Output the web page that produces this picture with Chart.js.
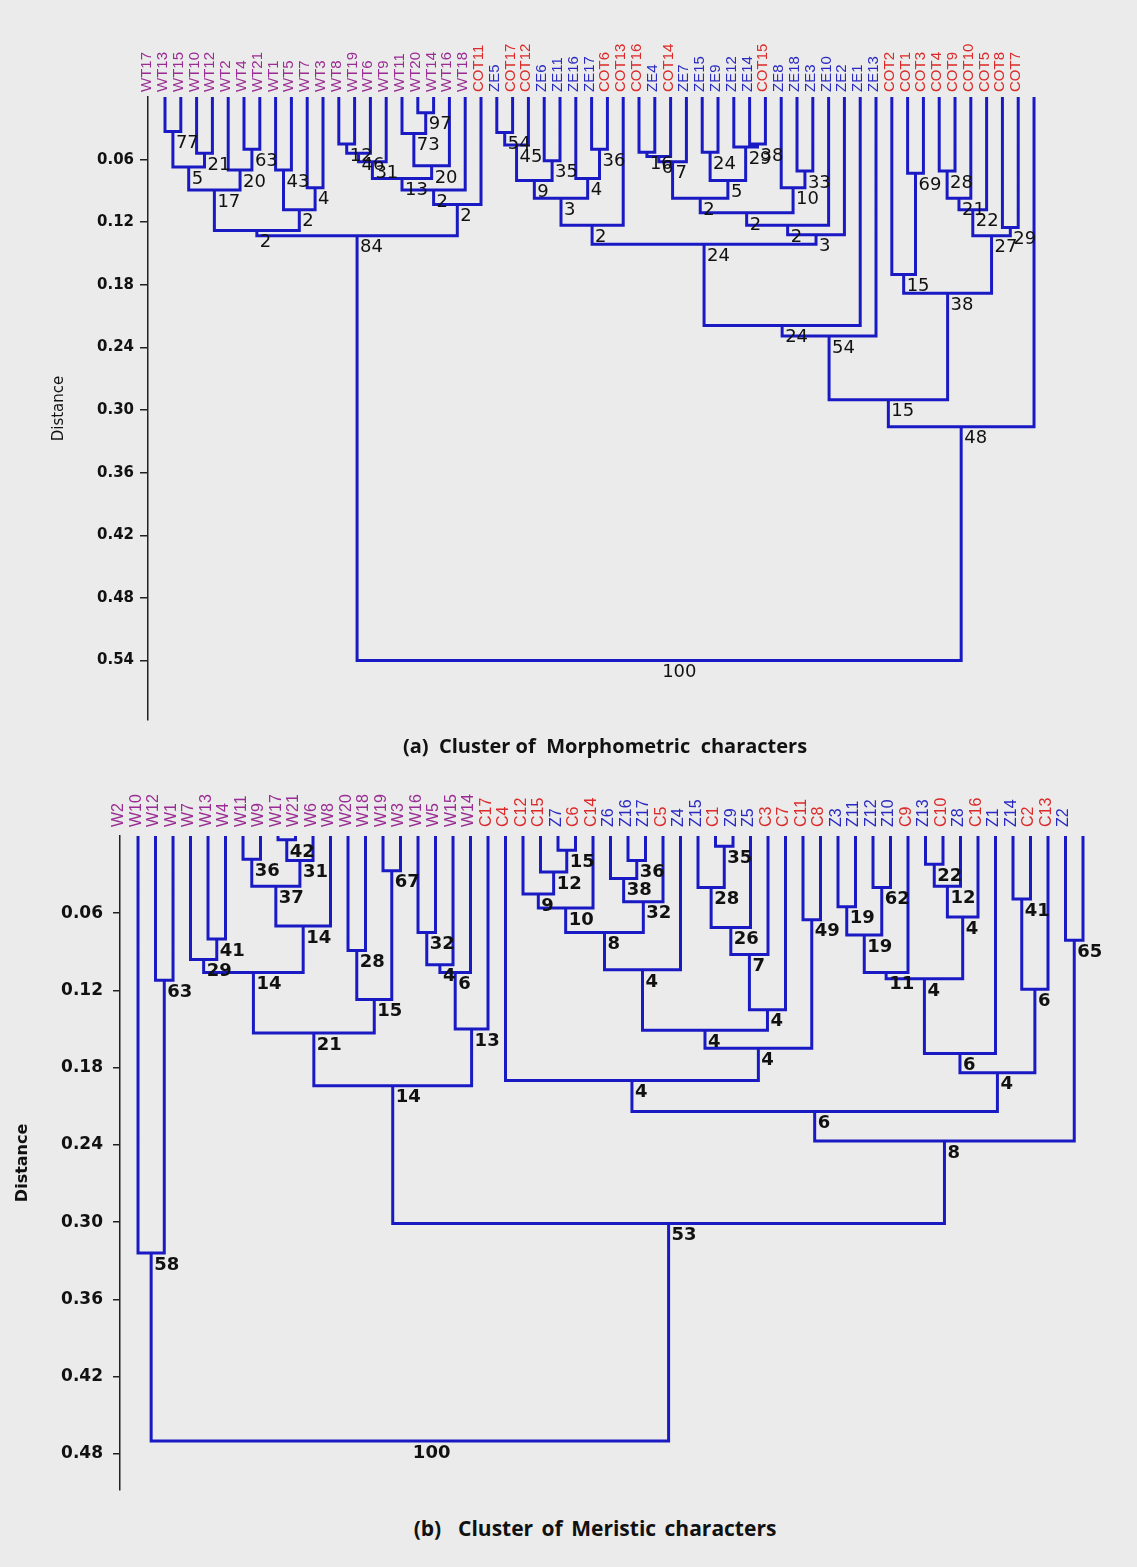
<!DOCTYPE html>
<html>
<head>
<meta charset="utf-8">
<script src="https://cdn.jsdelivr.net/npm/chart.js@4.4.1/dist/chart.umd.min.js"></script>
<style>
    body { margin: 0; background: #ebebeb; width: 1137px; height: 1567px; position: relative; overflow: hidden; }
    .box { position: absolute; left: 0; width: 1137px; }
    #boxA { top: 0; height: 735px; }
    #boxB { top: 770px; height: 740px; }
    .cap { position: absolute; font: bold 20px 'Open Sans', sans-serif; color: #111; white-space: pre; transform: translateX(-50%); }
</style>
</head>
<body>
<div class="box" id="boxA"><canvas id="myChart"></canvas></div>
<div class="cap" style="left:605px; top:732px;">(a)  Cluster of  Morphometric  characters</div>
<div class="box" id="boxB"><canvas id="myChart2"></canvas></div>
<div class="cap" style="left:595px; top:1514px; font-size:21px; word-spacing:3px;">(b)  Cluster of Meristic characters</div>

<script>
// (a) morphometric: leaf order as printed along the top
const leavesA = ['WT17','WT13','WT15','WT10','WT12','WT2','WT4','WT21','WT1','WT5','WT7','WT3','WT8','WT19','WT6','WT9','WT11','WT20','WT14','WT16','WT18',
    'COT11','ZE5','COT17','COT12','ZE6','ZE11','ZE16','ZE17','COT6','COT13','COT16','ZE4','COT14','ZE7','ZE15','ZE9','ZE12','ZE14','COT15','ZE8','ZE18','ZE3','ZE10','ZE2','ZE1','ZE13',
    'COT2','COT1','COT3','COT4','COT9','COT10','COT5','COT8','COT7'];

// [node, left, right, distance, bootstrap]
const mergesA = [
    ['a1','WT17','WT13',0.033,77], ['a2','WT15','WT10',0.054,21], ['a3','a1','a2',0.067,5],
    ['a4','WT2','WT4',0.050,63], ['a5','WT12','a4',0.070,20], ['a6','a3','a5',0.089,17],
    ['a7','WT21','WT1',0.070,43], ['a8','WT5','WT7',0.087,4], ['a9','a7','a8',0.108,2],
    ['a10','a6','a9',0.128,2],
    ['a11','WT3','WT8',0.045,12], ['a12','a11','WT19',0.054,46], ['a13','a12','WT6',0.062,31],
    ['a14','WT11','WT20',0.015,97], ['a15','WT9','a14',0.035,73], ['a16','a15','WT14',0.066,20],
    ['a17','a13','a16',0.078,13], ['a18','a17','WT16',0.089,2], ['a19','a18','WT18',0.103,2],
    ['a20','a10','a19',0.133,84],
    ['a21','COT11','ZE5',0.034,54], ['a22','a21','COT17',0.046,45], ['a23','COT12','ZE6',0.061,35],
    ['a24','a22','a23',0.080,9], ['a25','ZE16','ZE17',0.050,36], ['a26','ZE11','a25',0.078,4],
    ['a27','a24','a26',0.097,3], ['a28','a27','COT6',0.123,2],
    ['a29','COT13','COT16',0.053,16], ['a30','a29','ZE4',0.057,6], ['a31','a30','COT14',0.062,7],
    ['a32','ZE7','ZE15',0.053,24], ['a33','ZE12','ZE14',0.045,38], ['a34','ZE9','a33',0.048,29],
    ['a35','a32','a34',0.080,5], ['a36','a31','a35',0.097,2],
    ['a37','ZE8','ZE18',0.071,33], ['a38','COT15','a37',0.087,10], ['a39','a36','a38',0.111,2],
    ['a40','a39','ZE3',0.123,2], ['a41','a40','ZE10',0.132,3], ['a42','a28','a41',0.141,24],
    ['a43','a42','ZE2',0.219,24], ['a44','a43','ZE1',0.229,54],
    ['a45','COT2','COT1',0.073,69], ['a46','ZE13','a45',0.170,15],
    ['a47','COT3','COT4',0.071,28], ['a48','a47','COT9',0.097,21], ['a49','a48','COT10',0.108,22],
    ['a50','COT5','COT8',0.125,29], ['a51','a49','a50',0.133,27], ['a52','a46','a51',0.188,38],
    ['a53','a44','a52',0.290,15], ['a54','a53','COT7',0.316,48],
    ['a55','a20','a54',0.540,100]
];
const distTicksA = [0.06, 0.12, 0.18, 0.24, 0.30, 0.36, 0.42, 0.48, 0.54];

// (b) meristic
const leavesB = ['W2','W10','W12','W1','W7','W13','W4','W11','W9','W17','W21','W6','W8','W20','W18','W19','W3','W16','W5','W15','W14',
    'C17','C4','C12','C15','Z7','C6','C14','Z6','Z16','Z17','C5','Z4','Z15','C1','Z9','Z5','C3','C7','C11',
    'C8','Z3','Z11','Z12','Z10','C9','Z13','C10','Z8','C16','Z1','Z14','C2','C13','Z2'];

const mergesB = [
    ['b1','W10','W12',0.112,63], ['b2','W7','W13',0.080,41], ['b3','W1','b2',0.096,29],
    ['b4','W4','W11',0.018,36], ['b5','W9','W17',0.003,42], ['b6','b5','W21',0.019,31],
    ['b7','b4','b6',0.039,37], ['b8','b7','W6',0.070,14], ['b9','b3','b8',0.106,14],
    ['b10','W8','W20',0.089,28], ['b11','W18','W19',0.027,67], ['b12','b10','b11',0.127,15],
    ['b13','b9','b12',0.153,21],
    ['b14','W3','W16',0.075,32], ['b15','b14','W5',0.100,4], ['b16','b15','W15',0.106,6],
    ['b17','b16','W14',0.150,13], ['b18','b13','b17',0.194,14],
    ['b19','C15','Z7',0.011,15], ['b20','C12','b19',0.028,12], ['b21','C4','b20',0.045,9],
    ['b22','b21','C6',0.056,10], ['b23','Z6','Z16',0.019,36], ['b24','C14','b23',0.033,38],
    ['b25','b24','Z17',0.051,32], ['b26','b22','b25',0.075,8], ['b27','b26','C5',0.104,4],
    ['b28','Z15','C1',0.008,35], ['b29','Z4','b28',0.040,28], ['b30','b29','Z9',0.071,26],
    ['b31','b30','Z5',0.092,7], ['b32','b31','C3',0.135,4], ['b33','b27','b32',0.151,4],
    ['b34','C7','C11',0.065,49], ['b35','b33','b34',0.165,4], ['b36','C17','b35',0.190,4],
    ['b37','C8','Z3',0.055,19], ['b38','Z11','Z12',0.040,62], ['b39','b37','b38',0.077,19],
    ['b40','b39','Z10',0.106,11], ['b41','C9','Z13',0.022,22], ['b42','b41','C10',0.039,12],
    ['b43','b42','Z8',0.063,4], ['b44','b40','b43',0.111,4], ['b45','b44','C16',0.169,6],
    ['b46','Z1','Z14',0.049,41], ['b47','b46','C2',0.119,6], ['b48','b45','b47',0.184,4],
    ['b49','b36','b48',0.214,6], ['b50','C13','Z2',0.081,65], ['b51','b49','b50',0.237,8],
    ['b52','b18','b51',0.301,53], ['b53','W2','b1',0.324,58],
    ['b54','b53','b52',0.470,100]
];
const distTicksB = [0.06, 0.12, 0.18, 0.24, 0.30, 0.36, 0.42, 0.48];

function leafColor(name) {
    if (name[0] === 'W') return '#9a2c93';
    if (name[0] === 'C') return '#dc2a2a';
    return '#2a2ac2';
}

// turn the merge list into one broken polyline + the support labels
function buildTree(leaves, merges) {
    const pos = {};
    leaves.forEach((n, i) => { pos[n] = { x: i, d: 0 }; });
    const path = [];
    const notes = [];
    merges.forEach(([id, a, b, d, s]) => {
        const L = pos[a], R = pos[b];
        path.push({x: L.x, y: L.d}, {x: L.x, y: d}, {x: R.x, y: d}, {x: R.x, y: R.d}, {x: R.x, y: null});
        pos[id] = { x: (L.x + R.x) / 2, d: d };
        notes.push({ x: pos[id].x, y: d, text: String(s) });
    });
    return { path, notes };
}

function makeChart(canvasId, leaves, merges, distTicks, cfg) {
    const tree = buildTree(leaves, merges);
    const supportLabels = {
        id: 'supportLabels',
        afterDatasetsDraw(chart) {
            const {ctx, scales: {x, y}} = chart;
            ctx.save();
            ctx.font = cfg.noteFont;
            ctx.fillStyle = '#111';
            ctx.textAlign = 'left';
            ctx.textBaseline = 'top';
            tree.notes.forEach(n => {
                ctx.fillText(n.text, x.getPixelForValue(n.x) + 3, y.getPixelForValue(n.y) + 3);
            });
            ctx.restore();
        }
    };
    return new Chart(document.getElementById(canvasId), {
        type: 'line',
        data: {
            datasets: [{
                data: tree.path,
                borderColor: '#1a1ac4',
                borderWidth: 3,
                pointRadius: 0,
                fill: false,
                tension: 0,
                spanGaps: false,
                borderJoinStyle: 'miter',
                borderCapStyle: 'butt'
            }]
        },
        plugins: [supportLabels],
        options: {
            responsive: true,
            maintainAspectRatio: false,
            animation: false,
            events: [],
            layout: { padding: { top: 0, left: 0, right: cfg.padRight, bottom: cfg.padBottom } },
            plugins: { legend: { display: false }, tooltip: { enabled: false } },
            scales: {
                x: {
                    type: 'linear',
                    position: 'top',
                    min: cfg.xmin,
                    max: cfg.xmax,
                    afterBuildTicks: s => { s.ticks = leaves.map((_, i) => ({ value: i })); },
                    afterFit: s => { s.height = cfg.xHeight; },
                    grid: { display: false, drawTicks: false },
                    border: { display: false },
                    ticks: {
                        autoSkip: false,
                        minRotation: 90,
                        maxRotation: 90,
                        padding: cfg.leafPad,
                        font: cfg.leafFont,
                        color: c => leafColor(leaves[c.index] || 'W'),
                        callback: (v, i) => leaves[i]
                    }
                },
                y: {
                    type: 'linear',
                    reverse: true,
                    min: 0,
                    max: cfg.ymax,
                    afterBuildTicks: s => { s.ticks = distTicks.map(v => ({ value: v })); },
                    afterFit: s => { s.width = cfg.yWidth; },
                    border: { display: true, color: '#222', width: 1.5 },
                    grid: { drawOnChartArea: false, drawTicks: true, tickLength: cfg.tickLen, color: '#222', lineWidth: 1.5 },
                    ticks: { padding: cfg.tickPad, font: cfg.tickFont, color: '#111', callback: v => Number(v).toFixed(2) },
                    title: { display: true, text: 'Distance', font: cfg.titleFont, color: '#111', padding: { top: cfg.titlePad, bottom: 0 } }
                }
            }
        }
    });
}

makeChart('myChart', leavesA, mergesA, distTicksA, {
    xmin: -1.076, xmax: 55.6, ymax: 0.597,
    yWidth: 148, xHeight: 97, padRight: 93.5, padBottom: 5,
    leafPad: 5, leafFont: { family: 'Liberation Sans', size: 15 },
    tickLen: 8, tickPad: 6, tickFont: { family: 'DejaVu Sans', size: 15, weight: 'bold' },
    titleFont: { family: 'DejaVu Sans', size: 15 }, titlePad: 50,
    noteFont: '18px "DejaVu Sans"'
});

makeChart('myChart2', leavesB, mergesB, distTicksB, {
    xmin: -1.03, xmax: 54.6, ymax: 0.508,
    yWidth: 120, xHeight: 66, padRight: 43.5, padBottom: 5,
    leafPad: 9, leafFont: { family: 'Liberation Sans', size: 16 },
    tickLen: 7, tickPad: 10, tickFont: { family: 'DejaVu Sans', size: 17, weight: 'bold' },
    titleFont: { family: 'DejaVu Sans', size: 16, weight: 'bold' }, titlePad: 13,
    noteFont: 'bold 18px "DejaVu Sans"'
});
</script>
</body>
</html>
